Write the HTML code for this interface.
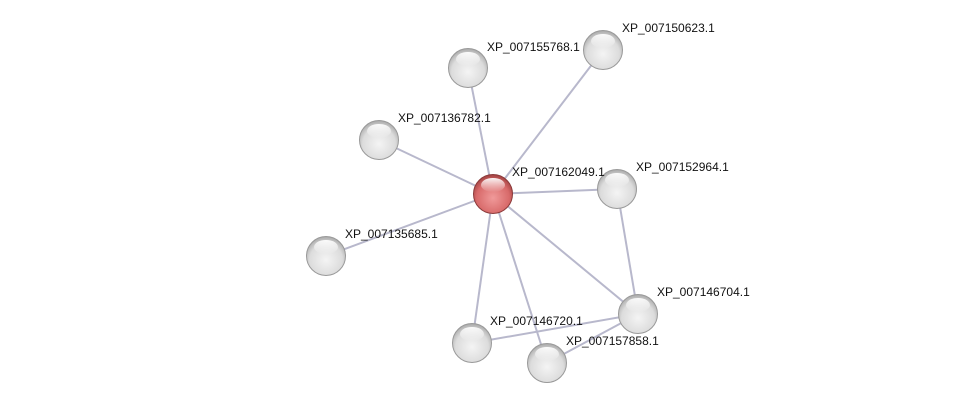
<!DOCTYPE html>
<html><head><style>body{margin:0;background:#fff}</style></head><body>
<svg width="975" height="408" xmlns="http://www.w3.org/2000/svg">
<defs>
<radialGradient id="g" cx="50%" cy="60%" r="60%"><stop offset="0" stop-color="#f4f4f4"/><stop offset="0.7" stop-color="#dcdcdc"/><stop offset="1" stop-color="#a8a8a8"/></radialGradient>
<radialGradient id="r" cx="50%" cy="60%" r="60%"><stop offset="0" stop-color="#f09a9a"/><stop offset="0.7" stop-color="#d86a6a"/><stop offset="1" stop-color="#a04040"/></radialGradient>
<linearGradient id="h" x1="0" y1="0" x2="0" y2="1"><stop offset="0" stop-color="#fff" stop-opacity="0.95"/><stop offset="1" stop-color="#fff" stop-opacity="0"/></linearGradient>
</defs>
<g stroke="#b8b8cc" stroke-width="2">
<line x1="493" y1="194" x2="468" y2="68"/><line x1="493" y1="194" x2="603" y2="50"/>
<line x1="493" y1="194" x2="379" y2="140"/><line x1="493" y1="194" x2="617" y2="189"/>
<line x1="493" y1="194" x2="326" y2="256"/><line x1="493" y1="194" x2="638" y2="314"/>
<line x1="493" y1="194" x2="472" y2="343"/><line x1="493" y1="194" x2="547" y2="363"/>
<line x1="617" y1="189" x2="638" y2="314"/><line x1="638" y1="314" x2="472" y2="343"/>
<line x1="638" y1="314" x2="547" y2="363"/>
</g>
<g stroke="#999" stroke-width="1">
<circle cx="468" cy="68" r="19.5" fill="url(#g)"/><circle cx="603" cy="50" r="19.5" fill="url(#g)"/>
<circle cx="379" cy="140" r="19.5" fill="url(#g)"/><circle cx="617" cy="189" r="19.5" fill="url(#g)"/>
<circle cx="326" cy="256" r="19.5" fill="url(#g)"/><circle cx="638" cy="314" r="19.5" fill="url(#g)"/>
<circle cx="472" cy="343" r="19.5" fill="url(#g)"/><circle cx="547" cy="363" r="19.5" fill="url(#g)"/>
<circle cx="493" cy="194" r="19.5" fill="url(#r)" stroke="#8a3a3a"/>
</g>
<g fill="url(#h)">
<ellipse cx="468" cy="59" rx="12" ry="7"/><ellipse cx="603" cy="41" rx="12" ry="7"/>
<ellipse cx="379" cy="131" rx="12" ry="7"/><ellipse cx="617" cy="180" rx="12" ry="7"/>
<ellipse cx="326" cy="247" rx="12" ry="7"/><ellipse cx="638" cy="305" rx="12" ry="7"/>
<ellipse cx="472" cy="334" rx="12" ry="7"/><ellipse cx="547" cy="354" rx="12" ry="7"/>
<ellipse cx="493" cy="185" rx="12" ry="7"/>
</g>
<g font-family="Liberation Sans, sans-serif" font-size="12" fill="#111">
<text x="487" y="51">XP_007155768.1</text>
<text x="622" y="32">XP_007150623.1</text>
<text x="398" y="122">XP_007136782.1</text>
<text x="512" y="176">XP_007162049.1</text>
<text x="636" y="171">XP_007152964.1</text>
<text x="345" y="238">XP_007135685.1</text>
<text x="657" y="296">XP_007146704.1</text>
<text x="490" y="325">XP_007146720.1</text>
<text x="566" y="345">XP_007157858.1</text>
</g>
</svg>
</body></html>
